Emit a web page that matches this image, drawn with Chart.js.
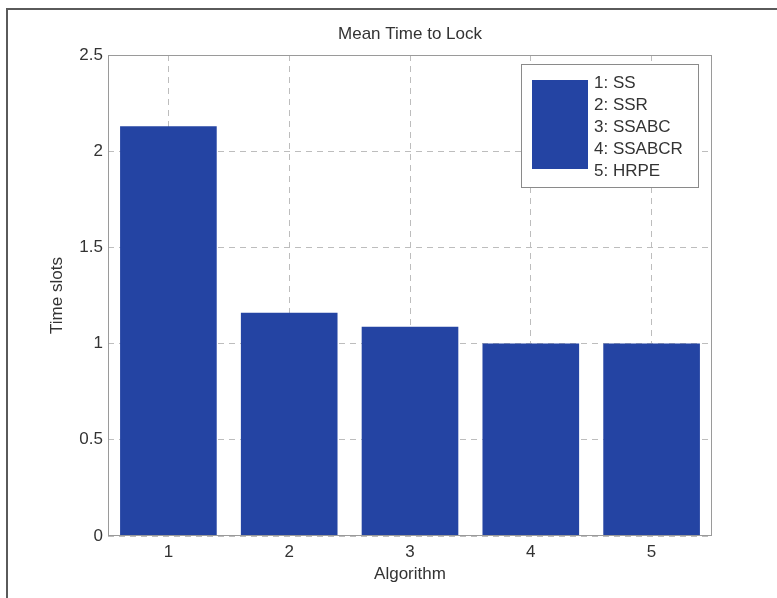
<!DOCTYPE html>
<html>
<head>
<meta charset="utf-8">
<script src="https://cdn.jsdelivr.net/npm/chart.js@4/dist/chart.umd.min.js"></script>
<style>
  body { margin: 0; background: #fff; }
  #wrap { width: 777px; height: 598px; }
</style>
</head>
<body>
<div id="wrap"><canvas id="lockChart" width="777" height="598"></canvas></div>
<script>
// data
const algorithms = ['1', '2', '3', '4', '5'];
const meanTime = [2.13, 1.16, 1.087, 1.0, 1.0];
const yTicks = [0, 0.5, 1, 1.5, 2, 2.5];
const legendLabels = ['1: SS', '2: SSR', '3: SSABC', '4: SSABCR', '5: HRPE'];
const chartTitle = 'Mean Time to Lock';

const barColor = '#2444a3';
const textColor = '#333';
const fontFamily = '"Liberation Sans", Arial, Helvetica, sans-serif';
const gridColor = '#bdbdbd';

// page frame, title over the axes, axes box and legend (MATLAB style)
const matlabBits = {
  id: 'matlabBits',
  beforeDraw(chart) {
    const ctx = chart.ctx;
    const a = chart.chartArea;
    ctx.save();
    ctx.strokeStyle = '#5a5a5a';
    ctx.lineWidth = 2;
    ctx.beginPath();
    ctx.moveTo(7, 598);
    ctx.lineTo(7, 9);
    ctx.lineTo(777, 9);
    ctx.stroke();

    ctx.fillStyle = textColor;
    ctx.font = '17px ' + fontFamily;
    ctx.textAlign = 'center';
    ctx.textBaseline = 'middle';
    ctx.fillText(chartTitle, (a.left + a.right) / 2, a.top - 21);
    ctx.restore();
  },
  afterDatasetsDraw(chart) {
    const ctx = chart.ctx;
    const a = chart.chartArea;
    ctx.save();
    ctx.strokeStyle = '#9a9a9a';
    ctx.lineWidth = 1;
    ctx.strokeRect(a.left + 0.5, a.top + 0.5, a.right - a.left - 1, a.bottom - a.top - 1);

    // legend
    const bx = a.right - 191, by = a.top + 9, bw = 177, bh = 123;
    ctx.fillStyle = '#fff';
    ctx.fillRect(bx, by, bw, bh);
    ctx.strokeStyle = '#8a8a8a';
    ctx.strokeRect(bx + 0.5, by + 0.5, bw, bh);
    ctx.fillStyle = barColor;
    ctx.fillRect(bx + 11, by + 16, 56, 89);
    ctx.fillStyle = textColor;
    ctx.font = '17px ' + fontFamily;
    ctx.textBaseline = 'middle';
    ctx.textAlign = 'left';
    legendLabels.forEach((t, i) => {
      ctx.fillText(t, bx + 73, by + 19 + i * 22.2);
    });
    ctx.restore();
  }
};

new Chart(document.getElementById('lockChart'), {
  type: 'bar',
  data: {
    labels: algorithms,
    datasets: [{
      label: chartTitle,
      data: meanTime,
      backgroundColor: barColor,
      borderWidth: 0,
      categoryPercentage: 0.8,
      barPercentage: 1.0
    }]
  },
  options: {
    responsive: false,
    animation: false,
    layout: { padding: { left: 43, right: 65, top: 55, bottom: 9 } },
    plugins: {
      legend: { display: false },
      tooltip: { enabled: false },
      title: { display: false }
    },
    scales: {
      x: {
        offset: true,
        grid: {
          offset: false,
          color: gridColor,
          drawTicks: false
        },
        border: { display: false, dash: [6, 5] },
        ticks: {
          color: textColor,
          padding: 6,
          font: { family: fontFamily, size: 17 }
        },
        title: {
          display: true,
          text: 'Algorithm',
          color: textColor,
          font: { family: fontFamily, size: 17 },
          padding: { top: 4, bottom: 4 }
        },
        afterFit(scale) { scale.height = 53; }
      },
      y: {
        min: 0,
        max: 2.5,
        afterBuildTicks(scale) { scale.ticks = yTicks.map(v => ({ value: v })); },
        grid: {
          color: gridColor,
          drawTicks: false
        },
        border: { display: false, dash: [6, 5] },
        ticks: {
          color: textColor,
          padding: 5,
          font: { family: fontFamily, size: 17 },
          callback: v => String(v)
        },
        title: {
          display: true,
          text: 'Time slots',
          color: textColor,
          font: { family: fontFamily, size: 17 },
          padding: { top: 4, bottom: 4 }
        },
        afterFit(scale) { scale.width = 65; }
      }
    }
  },
  plugins: [matlabBits]
});
</script>
</body>
</html>
